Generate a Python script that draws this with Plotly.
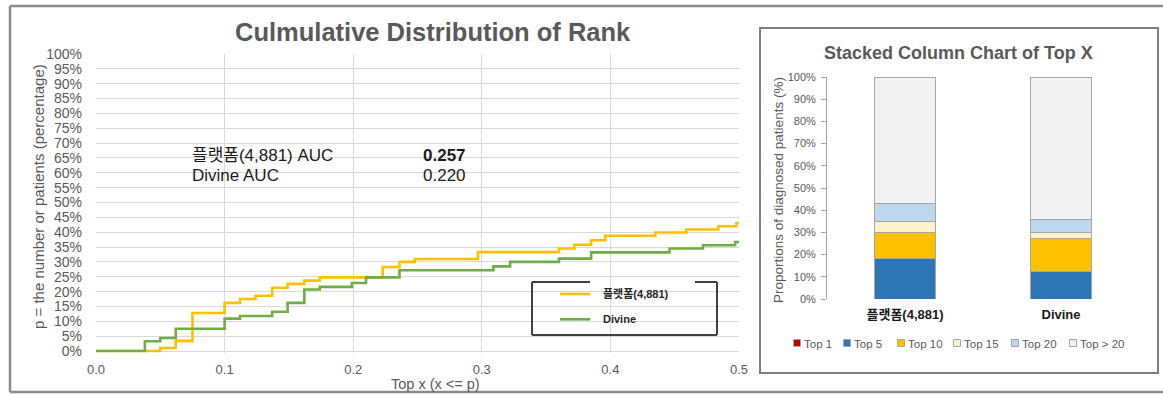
import plotly.graph_objects as go

# ---- data -------------------------------------------------------------
# cumulative distribution of rank (step curves), x = Top x, y = % of patients
platform_x = [0.0, 0.038, 0.050, 0.062, 0.075, 0.100, 0.112, 0.124, 0.137, 0.149,
              0.162, 0.174, 0.223, 0.236, 0.248, 0.297, 0.360, 0.372, 0.385, 0.396,
              0.435, 0.459, 0.484, 0.498, 0.500]
platform_y = [0.0, 0.0, 1.0, 3.4, 12.8, 16.2, 17.5, 18.6, 21.3, 22.6,
              23.7, 24.8, 28.3, 30.0, 31.0, 33.3, 34.5, 35.8, 37.3, 38.8,
              39.9, 40.9, 42.0, 43.1, 43.1]
divine_x = [0.0, 0.038, 0.050, 0.062, 0.100, 0.112, 0.137, 0.149, 0.162, 0.174,
            0.199, 0.210, 0.236, 0.309, 0.322, 0.360, 0.385, 0.446, 0.472, 0.497, 0.500]
divine_y = [0.0, 3.3, 4.4, 7.5, 10.9, 11.8, 13.2, 16.2, 20.7, 21.6,
            22.9, 24.8, 27.2, 28.5, 30.0, 31.1, 33.2, 34.5, 35.6, 36.7, 36.7]
series_names = ["플랫폼(4,881)", "Divine"]
auc_values = [0.257, 0.220]

# stacked column shares (%)
bar_categories = ["플랫폼(4,881)", "Divine"]
bucket_names = ["Top 1", "Top 5", "Top 10", "Top 15", "Top 20", "Top > 20"]
bucket_values = [
    [0.0, 0.0],
    [18.3, 12.3],
    [11.6, 15.0],
    [5.2, 2.6],
    [7.7, 6.1],
    [57.2, 64.0],
]

# ---- styling ----------------------------------------------------------
W, H = 1163, 395
FONT = "Liberation Sans, Noto Sans CJK KR, Arial, sans-serif"
GREY_TXT = "#595959"
GRID = "#D9D9D9"
LINE_COLORS = ["#FFC000", "#70AD47"]
BUCKET_COLORS = ["#C00000", "#2E75B6", "#FFC000", "#FFF2CC", "#BDD7EE", "#F2F2F2"]


def px(x):
    return x / W


def py(y):
    return 1 - y / H


fig = go.Figure()

for name, xs, ys, col in zip(series_names, [platform_x, divine_x],
                             [platform_y, divine_y], LINE_COLORS):
    fig.add_trace(go.Scatter(x=xs, y=ys, mode="lines", name=name,
                             line=dict(color=col, width=2.6, shape="hv"),
                             xaxis="x", yaxis="y", showlegend=False))

for name, vals, col in zip(bucket_names, bucket_values, BUCKET_COLORS):
    fig.add_trace(go.Bar(x=bar_categories, y=vals, name=name,
                         marker=dict(color=col, line=dict(color="#A6A6A6", width=1)),
                         xaxis="x2", yaxis="y2", showlegend=False))

shapes = []
annotations = []


def line(x0, y0, x1, y1, color, width, layer="above"):
    shapes.append(dict(type="line", xref="paper", yref="paper",
                       x0=px(x0), y0=py(y0), x1=px(x1), y1=py(y1),
                       line=dict(color=color, width=width), layer=layer))


def text(x, y, s, size, color=GREY_TXT, xanchor="center", angle=0):
    annotations.append(dict(xref="paper", yref="paper", x=px(x), y=py(y), text=s,
                            showarrow=False, xanchor=xanchor, yanchor="middle",
                            textangle=angle,
                            font=dict(family=FONT, size=size, color=color)))


# outer frame
line(10, 6, 1163, 6, "#8C8C8C", 2.5)
line(10, 6, 10, 392, "#8C8C8C", 2.5)
line(10, 392, 1163, 392, "#8C8C8C", 2.5)

# right panel frame
shapes.append(dict(type="rect", xref="paper", yref="paper",
                   x0=px(760), y0=py(373), x1=px(1158), y1=py(28),
                   line=dict(color="#7F7F7F", width=2), fillcolor="rgba(0,0,0,0)"))

# AUC box (white, hides gridlines)
shapes.append(dict(type="rect", xref="paper", yref="paper",
                   x0=px(178), y0=py(192), x1=px(482), y1=py(136),
                   line=dict(width=0), fillcolor="white", layer="between"))
text(190, 155, f"{series_names[0]} AUC", 17, "#1A1A1A", "left")
text(190, 176, f"{series_names[1]} AUC", 17, "#1A1A1A", "left")
text(468, 155, f"<b>{auc_values[0]:.3f}</b>", 17, "#1A1A1A", "right")
text(468, 176, f"{auc_values[1]:.3f}", 17, "#1A1A1A", "right")

# line-chart legend box
shapes.append(dict(type="rect", xref="paper", yref="paper",
                   x0=px(532), y0=py(335), x1=px(717), y1=py(282),
                   line=dict(width=0), fillcolor="white", layer="between"))
LB = "#404040"
line(532, 282, 590, 282, LB, 2)
line(695, 282, 717, 282, LB, 2)
line(532, 282, 532, 335, LB, 2)
line(717, 282, 717, 335, LB, 2)
line(532, 335, 717, 335, LB, 2)
for i, (name, col) in enumerate(zip(series_names, LINE_COLORS)):
    yy = 294 + i * 25.3
    line(560, yy, 590, yy, col, 2.6)
    text(601, yy, f"<b>{name}</b>", 11, "#262626", "left")

# stacked-column legend
leg_x = [797, 847, 901, 957, 1015, 1073]
for name, col, lx in zip(bucket_names, BUCKET_COLORS, leg_x):
    shapes.append(dict(type="rect", xref="paper", yref="paper",
                       x0=px(lx - 3.5), y0=py(346.5), x1=px(lx + 3.5), y1=py(339.5),
                       line=dict(color="#A6A6A6", width=1), fillcolor=col))
    text(lx + 4.5, 343.5, name, 11.5, GREY_TXT, "left")

# titles
text(433, 32, "<b>Culmulative Distribution of Rank</b>", 25.5)
text(958, 53, "<b>Stacked Column Chart of Top X</b>", 18)
text(38, 197, "p = the number or patients (percentage)", 15, angle=-90)
text(435, 384, "Top x (x <= p)", 14.5)
text(778, 190, "Proportions of diagnosed patients (%)", 13.5, angle=-90)

fig.update_layout(
    width=W, height=H, autosize=False,
    margin=dict(l=0, r=0, t=0, b=0, autoexpand=False),
    paper_bgcolor="white", plot_bgcolor="white",
    font=dict(family=FONT, color=GREY_TXT),
    barmode="stack", bargap=0.615,
    shapes=shapes, annotations=annotations,
    xaxis=dict(domain=[px(96), px(739)], range=[0, 0.5], dtick=0.1, tickformat=".1f",
               showgrid=True, gridcolor=GRID, gridwidth=1, zeroline=False,
               showline=False, ticks="", ticklabelstandoff=7,
               tickfont=dict(size=13, color=GREY_TXT), anchor="y"),
    yaxis=dict(domain=[py(352.8), py(54)], range=[-0.6, 100], dtick=5,
               tick0=0, ticksuffix="%", showgrid=True, gridcolor=GRID, gridwidth=1,
               zeroline=False, showline=False, ticks="", ticklabelstandoff=13,
               tickfont=dict(size=14, color=GREY_TXT), anchor="x"),
    xaxis2=dict(domain=[px(827), px(1139)], type="category", showgrid=False,
                showline=False, zeroline=False, ticks="", ticklabelstandoff=6,
                tickfont=dict(size=13, color="#1A1A1A", family=FONT, weight="bold"),
                anchor="y2"),
    yaxis2=dict(domain=[py(299), py(77)], range=[0, 100], dtick=10,
                ticksuffix="%", showgrid=False, zeroline=False, showline=True,
                linecolor="#A6A6A6", linewidth=1, ticks="outside", ticklen=5,
                tickcolor="#A6A6A6", ticklabelstandoff=3,
                tickfont=dict(size=11, color=GREY_TXT), anchor="x2"),
)

# page without body margins so the figure occupies the window exactly
page_fix = (
    "document.documentElement.style.margin='0';"
    "document.body.style.margin='0';"
    "document.body.style.overflow='hidden';"
    "var gd=document.getElementById('{plot_id}');"
    "Plotly.relayout(gd,{width:%d,height:%d});" % (W, H)
)

fig.write_html("out.html", config={"responsive": False}, post_script=page_fix)
